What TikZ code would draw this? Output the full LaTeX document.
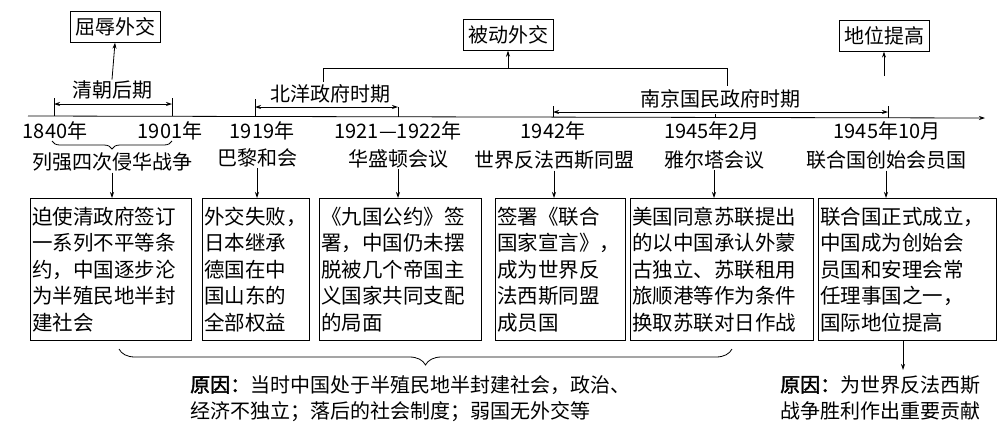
\documentclass[tikz,border=0pt]{standalone}
\usepackage{fontspec}
\setmainfont{Noto Sans CJK SC}
\newfontfamily\cjkb[FakeBold=2]{Noto Sans CJK SC}
\usetikzlibrary{arrows.meta,decorations.pathreplacing}
\begin{document}
\begin{tikzpicture}[x=1pt,y=-1pt,
  ln/.style={line width=0.8pt},
  ar/.style={ln,-{Stealth[length=6pt,width=4pt]}},
  dar/.style={ln,{Stealth[length=6pt,width=4pt]}-{Stealth[length=6pt,width=4pt]}},
  lbl/.style={inner sep=1pt,font=\fontsize{20}{22}\selectfont},
  top/.style={draw,ln,inner xsep=5pt,inner ysep=6pt,font=\fontsize{20}{22}\selectfont},
  bx/.style={draw,ln,anchor=north west,inner xsep=2pt,inner ysep=3pt,align=left,
    minimum height=142pt,font=\fontsize{20.5}{26.5}\selectfont},
  br/.style={ln,decorate,decoration={brace,mirror,amplitude=#1}}]
\useasboundingbox (0,0) rectangle (1006,440);
% top boxes
\node[top] (t1) at (115,27) {屈辱外交};
\node[top] (t2) at (508,35) {被动外交};
\node[top] (t3) at (884,36) {地位提高};
% axis
\coordinate (a0) at (28,116);
\coordinate (a1) at (985,118);
\draw[ar] (a0) -- (a1);
% periods
\node[lbl] (p1) at (112,90) {清朝后期};
\draw[dar] (54,104) -- (172,104);
\draw[ln] (54,98) -- (54,116) (172,98) -- (172,116);
\draw[ar] (p1.north) -- (t1.south);
\node[lbl] (p2) at (330,94) {北洋政府时期};
\draw[dar] (255,107) -- (398,107);
\draw[ln] (255,99) -- (255,117) (398,107) -- (398,117);
\node[lbl] (p3) at (720,99) {南京国民政府时期};
\draw[dar] (553,112) -- (888,112);
\draw[ln] (553,106) -- (553,117) (888,106) -- (888,118) (715,114) -- (715,117);
\coordinate (j1) at (323,68);
\coordinate (j2) at (727,68);
\draw[ln] (323,82) -- (j1) -- (j2) -- (727,86);
\draw[ar] (508,68) -- (t2.south);
\draw[ar] (884,76) -- (t3.south);
% dates
\node[lbl] (d1) at (55,131) {1840年};
\node[lbl] (d2) at (170,131) {1901年};
\node[lbl] (d3) at (262,131) {1919年};
\node[lbl] (d4) at (398,131) {1921—1922年};
\node[lbl] (d5) at (553,131) {1942年};
\node[lbl] (d6) at (712,131) {1945年2月};
\node[lbl] (d7) at (887,131) {1945年10月};
\draw[br=8pt] (52,141) -- (172,141);
% events
\node[lbl] (e1) at (112,162) {列强四次侵华战争};
\node[lbl] (e2) at (257,158) {巴黎和会};
\node[lbl] (e3) at (398,159) {华盛顿会议};
\node[lbl] (e4) at (554,160) {世界反法西斯同盟};
\node[lbl] (e5) at (714,160) {雅尔塔会议};
\node[lbl] (e6) at (886,160) {联合国创始会员国};
% boxes
\node[bx,text width=157pt] (b1) at (30,198) {迫使清政府签订\\一系列不平等条\\约，中国逐步沦\\为半殖民地半封\\建社会};
\node[bx,text width=103pt] (b2) at (202,198) {外交失败，\\日本继承\\德国在中\\国山东的\\全部权益};
\node[bx,text width=158pt] (b3) at (319,198) {《九国公约》签\\署，中国仍未摆\\脱被几个帝国主\\义国家共同支配\\的局面};
\node[bx,text width=126pt] (b4) at (495,198) {签署《联合\\国家宣言》，\\成为世界反\\法西斯同盟\\成员国};
\node[bx,text width=179pt] (b5) at (630,198) {美国同意苏联提出\\的以中国承认外蒙\\古独立、苏联租用\\旅顺港等作为条件\\换取苏联对日作战};
\node[bx,text width=174pt] (b6) at (818,198) {联合国正式成立，\\中国成为创始会\\员国和安理会常\\任理事国之一，\\国际地位提高};
\foreach \e/\b in {e1/b1,e2/b2,e3/b3,e4/b4,e5/b5,e6/b6}
  \draw[ar] (\e.south) -- (\e.south |- \b.north);
% reasons
\draw[br=16pt] (119,349) -- (732,349);
\node[anchor=north west,align=left,inner sep=0pt,font=\fontsize{20}{26}\selectfont] (r1) at (190,375)
  {{\cjkb 原因：}当时中国处于半殖民地半封建社会，政治、\\经济不独立；落后的社会制度；弱国无外交等};
\node[anchor=north west,align=left,inner sep=0pt,font=\fontsize{20}{26}\selectfont] (r2) at (780,375)
  {{\cjkb 原因：}为世界反法西斯\\战争胜利作出重要贡献};
\coordinate (r2t) at (903,370);
\draw[ar] (r2t |- b6.south) -- (r2t);
\end{tikzpicture}
\end{document}
